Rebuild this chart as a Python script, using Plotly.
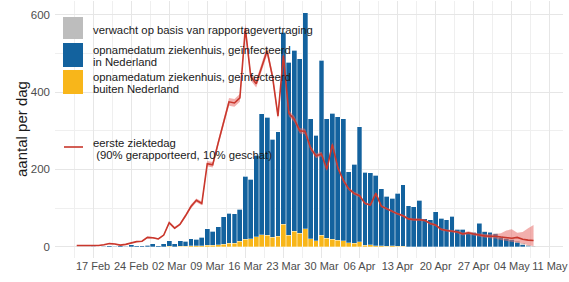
import pandas as pd
import plotly.graph_objects as go

# ---------------- data ----------------
bar_start = "2020-02-17"   # first bar day
n_bars = 82
bar_dates = pd.date_range(bar_start, periods=n_bars, freq="D")

buiten_nl = [0,0,0,0,0,0,0,0,0,0,0,0,0,0,
             1,0,1,1,2,2,3,4,4,5,6,9,9,14,
             19,20,26,31,30,25,27,58,30,40,35,47,21,16,
             30,22,19,17,15,10,9,13,4,5,3,2,1,2,
             1,1,0,0,0,0,0,0,0,0,0,0,0,0,
             0,0,0,0,0,0,0,0,0,0,0,0]
in_nl = [1,0,1,2,1,2,1,5,3,2,4,7,3,8,
         15,7,14,13,19,17,21,43,36,46,71,78,76,83,
         163,155,211,313,305,253,270,497,447,469,451,558,310,272,
         452,309,327,320,316,184,205,297,189,187,182,148,129,123,
         137,159,106,103,120,72,70,90,73,70,79,45,45,38,
         37,61,39,37,33,25,21,18,12,5,1,0]
verwacht = [0]*70 + [1,1,1,2,2,3,3,4,4,4,4,3]

line_start = "2020-02-14"
ziektedag = [3,3,2,3,3,5,8,7,4,6,10,13,14,24,23,20,30,62,48,58,80,104,120,112,
             215,212,268,320,375,372,385,565,440,422,465,507,440,338,495,345,
             330,300,298,255,235,240,200,265,205,172,150,138,132,112,108,138,
             105,98,90,85,80,72,70,70,68,60,56,45,42,40,38,33,36,33,30,28,27,
             27,25,24,22,24,19,17,16]
band_up = [1]*13 + [2,2,2,2,3,3,3,4,5,5,5, 7,7,8,9,10,10,10,
           12,10,10,10,11,10,8,11,8,8,7,7,6,6,
           6,5,6,5,5,4,4,4,3,3,4,3,3,3,3,3,3,3,3,
           3,3,3,3,3,3,3,4,4,
           4,4,5,5,6,10,18,23,12,19,31,40]
band_down = [1]*13 + [2,2,2,2,3,3,3,4,5,5,5, 7,7,8,9,10,10,10,
             12,10,10,10,11,10,8,11,8,8,7,7,6,6,
             6,5,6,5,5,4,4,4,3,3,4,3,3,3,3,3,3,3,3,
             3,3,3,3,3,3,3,4,4,
             4,4,4,5,6,8,9,9,13,11,13,14]
line_dates = pd.date_range(line_start, periods=len(ziektedag), freq="D")

tick_dates = pd.date_range("2020-02-17", "2020-05-11", freq="7D")
tick_labels = [d.strftime("%d %b") for d in tick_dates]
y_ticks = [0, 200, 400, 600]

# ---------------- figure ----------------
BLUE = "#13629e"
YELLOW = "#f8b61a"
GREY = "#bdbdbd"
RED = "#c9372c"

upper = [v + u for v, u in zip(ziektedag, band_up)]
lower = [max(v - d, 0) for v, d in zip(ziektedag, band_down)]

fig = go.Figure()
common = dict(marker_line_width=0.3, marker_line_color="white", showlegend=False)
fig.add_trace(go.Bar(x=bar_dates, y=buiten_nl, marker_color=YELLOW, **common))
fig.add_trace(go.Bar(x=bar_dates, y=in_nl, marker_color=BLUE, **common))
fig.add_trace(go.Bar(x=bar_dates, y=verwacht, marker_color=GREY, **common))
fig.add_trace(go.Scatter(x=line_dates, y=lower, mode="lines", line=dict(width=0),
                         showlegend=False, hoverinfo="skip"))
fig.add_trace(go.Scatter(x=line_dates, y=upper, mode="lines", line=dict(width=0),
                         fill="tonexty", fillcolor="rgba(232,110,105,0.55)",
                         showlegend=False, hoverinfo="skip"))
fig.add_trace(go.Scatter(x=line_dates, y=ziektedag, mode="lines",
                         line=dict(color=RED, width=1.6), showlegend=False))

# page body margin is removed (post_script) -> figure fills the window
OFF = 0
W, H = 569, 280
ML, MR, MT, MB = 55, 6, 1, 22
PW, PH = W - ML - MR, H - MT - MB

def px(X):  # X in window pixels
    return (X - OFF - ML) / PW

def py(Y):  # Y in window pixels
    return (H - MB - (Y - OFF)) / PH

shapes = []
for (y0, y1, col) in [(17, 39, GREY), (43, 67, BLUE), (70, 94, YELLOW)]:
    shapes.append(dict(type="rect", xref="paper", yref="paper",
                       x0=px(63), x1=px(83), y0=py(y1), y1=py(y0),
                       fillcolor=col, line_width=0))
shapes.append(dict(type="line", xref="paper", yref="paper",
                   x0=px(64), x1=px(83), y0=py(147), y1=py(147),
                   line=dict(color=RED, width=1.6)))

legend_lines = [
    ("verwacht op basis van rapportagevertraging", 30),
    ("opnamedatum ziekenhuis, geïnfecteerd", 50),
    ("in Nederland", 62),
    ("opnamedatum ziekenhuis, geïnfecteerd", 77),
    ("buiten Nederland", 89),
    ("eerste ziektedag", 143),
    (" (90% gerapporteerd, 10% geschat)", 155),
]
annotations = []
for txt, yy in legend_lines:
    annotations.append(dict(text=txt, xref="paper", yref="paper", x=px(91), y=py(yy),
                            xanchor="left", yanchor="middle", showarrow=False,
                            font=dict(family="Liberation Sans", size=11.3, color="#1a1a1a")))
annotations.append(dict(text="aantal per dag", xref="paper", yref="paper",
                        x=px(21), y=py(129), xanchor="center", yanchor="middle",
                        textangle=-90, showarrow=False,
                        font=dict(family="Liberation Sans", size=15, color="#1a1a1a")))

fig.update_layout(
    width=W, height=H,
    margin=dict(l=ML, r=MR, t=MT, b=MB),
    barmode="stack", bargap=0.1,
    plot_bgcolor="white", paper_bgcolor="white",
    shapes=shapes, annotations=annotations,
    font=dict(family="Liberation Sans"),
    showlegend=False,
)
fig.update_xaxes(
    type="date", range=["2020-02-10", "2020-05-13 10:00"],
    tickvals=tick_dates, ticktext=tick_labels, tickangle=0,
    ticklabeloverflow="allow",
    showgrid=True, gridcolor="#e6e6e6", gridwidth=1,
    minor=dict(showgrid=True, gridcolor="#efefef", gridwidth=0.6,
               tick0="2020-02-13 12:00", dtick=7 * 86400000),
    tickfont=dict(size=11, color="#4d4d4d"),
    ticks="", showline=False, zeroline=False,
)
fig.update_yaxes(
    range=[-29.3, 636], tickvals=y_ticks,
    showgrid=True, gridcolor="#e6e6e6", gridwidth=1,
    minor=dict(showgrid=True, gridcolor="#efefef", gridwidth=0.6, tick0=100, dtick=200),
    tickfont=dict(size=11.5, color="#4d4d4d"),
    ticks="", showline=False, zeroline=False, ticklabelstandoff=4,
)

fig.write_html("out.html",
               config={"displayModeBar": False},
               post_script="document.body.style.margin='0';"
                           "document.body.style.overflow='hidden';")
